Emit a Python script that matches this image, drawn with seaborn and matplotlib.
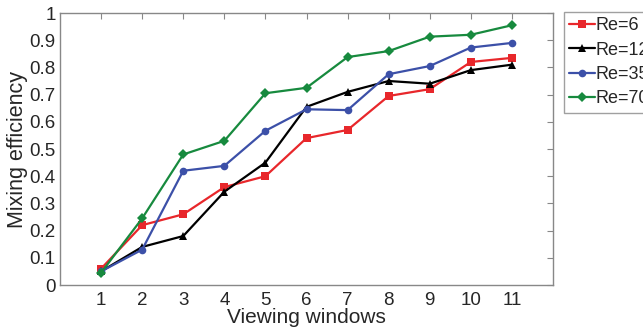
import pandas as pd
import matplotlib
matplotlib.use('Agg')
import matplotlib.pyplot as plt
import seaborn as sns

# --- Data ---
windows = [1, 2, 3, 4, 5, 6, 7, 8, 9, 10, 11]
re_6 = [0.06, 0.22, 0.26, 0.36, 0.40, 0.54, 0.57, 0.695, 0.72, 0.82, 0.835]
re_120 = [0.05, 0.14, 0.18, 0.343, 0.45, 0.655, 0.71, 0.75, 0.74, 0.79, 0.81]
re_350 = [0.05, 0.13, 0.42, 0.438, 0.567, 0.646, 0.643, 0.775, 0.805, 0.873, 0.89]
re_700 = [0.045, 0.245, 0.48, 0.53, 0.705, 0.725, 0.838, 0.86, 0.913, 0.92, 0.955]
labels = ['Re=6', 'Re=120', 'Re=350', 'Re=700']

df = pd.concat([
    pd.DataFrame({'window': windows, 'eff': vals, 'series': lab})
    for vals, lab in zip([re_6, re_120, re_350, re_700], labels)
])

# --- Style ---
sns.set_style('white')
plt.rcParams['font.family'] = ['Liberation Sans', 'DejaVu Sans']

palette = {'Re=6': '#e8272b', 'Re=120': '#000000', 'Re=350': '#3c50a8', 'Re=700': '#178a3e'}
markers = {'Re=6': 's', 'Re=120': '^', 'Re=350': 'o', 'Re=700': 'D'}

fig = plt.figure(figsize=(6.43, 3.32), dpi=100)
ax = fig.add_axes([60 / 643, 1 - 285 / 332, (553 - 60) / 643, (285 - 13) / 332])

sns.lineplot(data=df, x='window', y='eff', hue='series', style='series',
             palette=palette, markers=markers, dashes=False, ax=ax,
             linewidth=1.6, markersize=5.5, markeredgewidth=0, legend=False)

ax.set_xlim(0, 12)
ax.set_ylim(0, 1)
ax.set_xticks(windows)
ax.set_yticks([i / 10 for i in range(11)])
ax.set_yticklabels(['0'] + [f'0.{i}' for i in range(1, 10)] + ['1'])
ax.tick_params(direction='in', top=True, right=True, length=4, width=0.8,
               color='#888888', labelsize=13.5, pad=3)
ax.tick_params(axis='x', pad=5)
for s in ax.spines.values():
    s.set_color('#888888')
    s.set_linewidth(1.0)

ax.set_xlabel('Viewing windows', fontsize=15, labelpad=-1)
ax.set_ylabel('Mixing efficiency', fontsize=15.5, labelpad=1)

# legend sits outside the axes and runs off the right edge, as in the original
handles = [plt.Line2D([], [], color=palette[l], marker=markers[l], markersize=5.5,
                      markeredgewidth=0, linewidth=1.6) for l in labels]
leg = fig.legend(handles, labels, loc='upper left',
                 bbox_to_anchor=(564 / 643, 1 - 12 / 332), fontsize=13,
                 frameon=True, fancybox=False, handlelength=1.4,
                 handletextpad=0.05, borderpad=0.3, labelspacing=0.4,
                 borderaxespad=0)
leg.get_frame().set_edgecolor('#888888')
leg.get_frame().set_linewidth(1.0)

fig.savefig('out.png', dpi=100)
plt.close(fig)
